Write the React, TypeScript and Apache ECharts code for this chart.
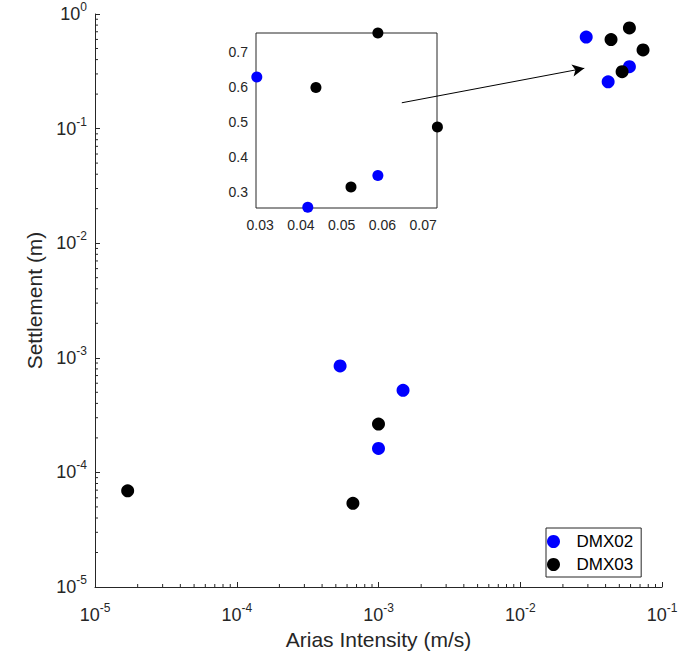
import React, { useEffect, useRef } from 'react';
import * as echarts from 'echarts';

const seriesNames = ['DMX02', 'DMX03'];
const seriesColors = ['#0000FF', '#000000'];
const dmx02X = [5.36e-4, 1.49e-3, 1.0e-3, 0.0292, 0.0417, 0.0589];
const dmx02Y = [8.5e-4, 5.2e-4, 1.62e-4, 0.629, 0.256, 0.347];
const dmx03X = [1.7e-5, 1.0e-3, 6.6e-4, 0.0437, 0.0589, 0.0735, 0.0523];
const dmx03Y = [6.9e-5, 2.64e-4, 5.37e-5, 0.599, 0.755, 0.486, 0.314];
const insetXTicks = [0.03, 0.04, 0.05, 0.06, 0.07];
const insetYTicks = [0.3, 0.4, 0.5, 0.6, 0.7];
const xDecades = [1e-5, 1e-4, 1e-3, 1e-2];
const yDecades = [1e-5, 1e-4, 1e-3, 1e-2, 1e-1];
const minorMultipliers = [2, 3, 4, 5, 6, 7, 8, 9];
const arrowFrom = [1.46e-3, 0.168];
const arrowTo = [0.0283, 0.336];

const FONT = '"Liberation Sans", Arial, Helvetica, sans-serif';
const TXT = '#262626';

const pairs = (xs: number[], ys: number[]) => xs.map((x, i) => [x, ys[i]]);
const minorOf = (decades: number[]) => decades.flatMap((d) => minorMultipliers.map((m) => m * d));

const powLabel = (v: number) => `{b|10}{s|${Math.round(Math.log10(v))}}`;
const powRich = {
  b: { fontSize: 18, color: TXT, fontFamily: FONT },
  s: { fontSize: 12, color: TXT, fontFamily: FONT, padding: [0, 0, 14, 0] },
};

export default function App() {
  const ref = useRef<HTMLDivElement>(null);
  useEffect(() => {
    if (!ref.current) return;
    const chart = echarts.init(ref.current, undefined, { renderer: 'svg' });
    const d02 = pairs(dmx02X, dmx02Y);
    const d03 = pairs(dmx03X, dmx03Y);
    const inset = (d: number[][]) => d.filter((p) => p[0] > 0.01);
    const xMinor = minorOf(xDecades);
    const yMinor = minorOf(yDecades);

    const tickLine = (dir: 'x' | 'y') => (params: any, api: any) => {
      const p = api.coord([api.value(0), api.value(1)]);
      return {
        type: 'line',
        shape:
          dir === 'x'
            ? { x1: p[0], y1: p[1], x2: p[0], y2: p[1] - 3 }
            : { x1: p[0], y1: p[1], x2: p[0] + 3, y2: p[1] },
        style: { stroke: TXT, lineWidth: 1 },
      };
    };

    chart.setOption({
      animation: false,
      grid: [
        { left: 95, top: 14, width: 567, height: 573 },
        {
          left: 256, top: 33, width: 181, height: 175, show: true,
          backgroundColor: '#fff', borderColor: TXT, borderWidth: 1,
        },
      ],
      legend: {
        data: seriesNames,
        orient: 'vertical',
        left: 546,
        top: 528,
        padding: [5, 8, 4, 1],
        itemWidth: 36,
        itemHeight: 13,
        itemGap: 6,
        icon: 'circle',
        borderColor: TXT,
        borderWidth: 1,
        backgroundColor: '#fff',
        textStyle: { fontSize: 17, color: '#000', fontFamily: FONT },
      },
      xAxis: [
        {
          type: 'log', logBase: 10, gridIndex: 0, min: 1e-5, max: 0.1,
          name: 'Arias Intensity (m/s)', nameLocation: 'middle', nameGap: 40,
          nameTextStyle: { fontSize: 21, color: TXT, fontFamily: FONT },
          axisLine: { show: true, lineStyle: { color: TXT, width: 1 } },
          axisTick: { show: true, inside: true, length: 5, lineStyle: { color: TXT } },
          axisLabel: { formatter: powLabel, rich: powRich, margin: 15 },
          splitLine: { show: false },
          minorTick: { show: false },
        },
        {
          type: 'value', gridIndex: 1, min: 0.029, max: 0.0734,
          axisLine: { show: false },
          axisTick: { show: false },
          axisLabel: {
            customValues: insetXTicks, fontSize: 14, color: TXT, fontFamily: FONT, margin: 10,
            formatter: (v: number) => v.toFixed(2),
          },
          splitLine: { show: false },
        },
      ],
      yAxis: [
        {
          type: 'log', logBase: 10, gridIndex: 0, min: 1e-5, max: 1,
          name: 'Settlement (m)', nameLocation: 'middle', nameGap: 43,
          nameTextStyle: { fontSize: 21, color: TXT, fontFamily: FONT },
          axisLine: { show: true, lineStyle: { color: TXT, width: 1 } },
          axisTick: { show: true, inside: true, length: 5, lineStyle: { color: TXT } },
          axisLabel: { formatter: powLabel, rich: powRich, margin: 8 },
          splitLine: { show: false },
          minorTick: { show: false },
        },
        {
          type: 'value', gridIndex: 1, min: 0.254, max: 0.755,
          axisLine: { show: false },
          axisTick: { show: false },
          axisLabel: {
            customValues: insetYTicks, fontSize: 14, color: TXT, fontFamily: FONT, margin: 8,
            formatter: (v: number) => v.toFixed(1),
          },
          splitLine: { show: false },
        },
      ],
      series: [
        {
          name: seriesNames[0], type: 'scatter', xAxisIndex: 0, yAxisIndex: 0,
          data: d02, symbolSize: 13, itemStyle: { color: seriesColors[0], opacity: 1 }, clip: false,
        },
        {
          name: seriesNames[1], type: 'scatter', xAxisIndex: 0, yAxisIndex: 0,
          data: d03, symbolSize: 13, itemStyle: { color: seriesColors[1], opacity: 1 }, clip: false,
          markLine: {
            silent: true,
            symbol: ['none', 'arrow'],
            symbolSize: [9, 12],
            lineStyle: { color: '#000', width: 1, type: 'solid' },
            label: { show: false },
            emphasis: { disabled: true },
            data: [[{ coord: arrowFrom }, { coord: arrowTo }]],
          },
        },
        {
          name: seriesNames[0], type: 'scatter', xAxisIndex: 1, yAxisIndex: 1,
          data: inset(d02), symbolSize: 11, itemStyle: { color: seriesColors[0], opacity: 1 }, clip: false,
        },
        {
          name: seriesNames[1], type: 'scatter', xAxisIndex: 1, yAxisIndex: 1,
          data: inset(d03), symbolSize: 11, itemStyle: { color: seriesColors[1], opacity: 1 }, clip: false,
        },
        {
          type: 'custom', xAxisIndex: 0, yAxisIndex: 0, silent: true,
          data: xMinor.map((v) => [v, 1e-5]), renderItem: tickLine('x'),
        },
        {
          type: 'custom', xAxisIndex: 0, yAxisIndex: 0, silent: true,
          data: yMinor.map((v) => [1e-5, v]), renderItem: tickLine('y'),
        },
      ],
    });
    return () => chart.dispose();
  }, []);
  return (
    <div
      ref={ref}
      style={{ position: 'fixed', left: 0, top: 0, width: 694, height: 655, background: '#fff' }}
    />
  );
}
